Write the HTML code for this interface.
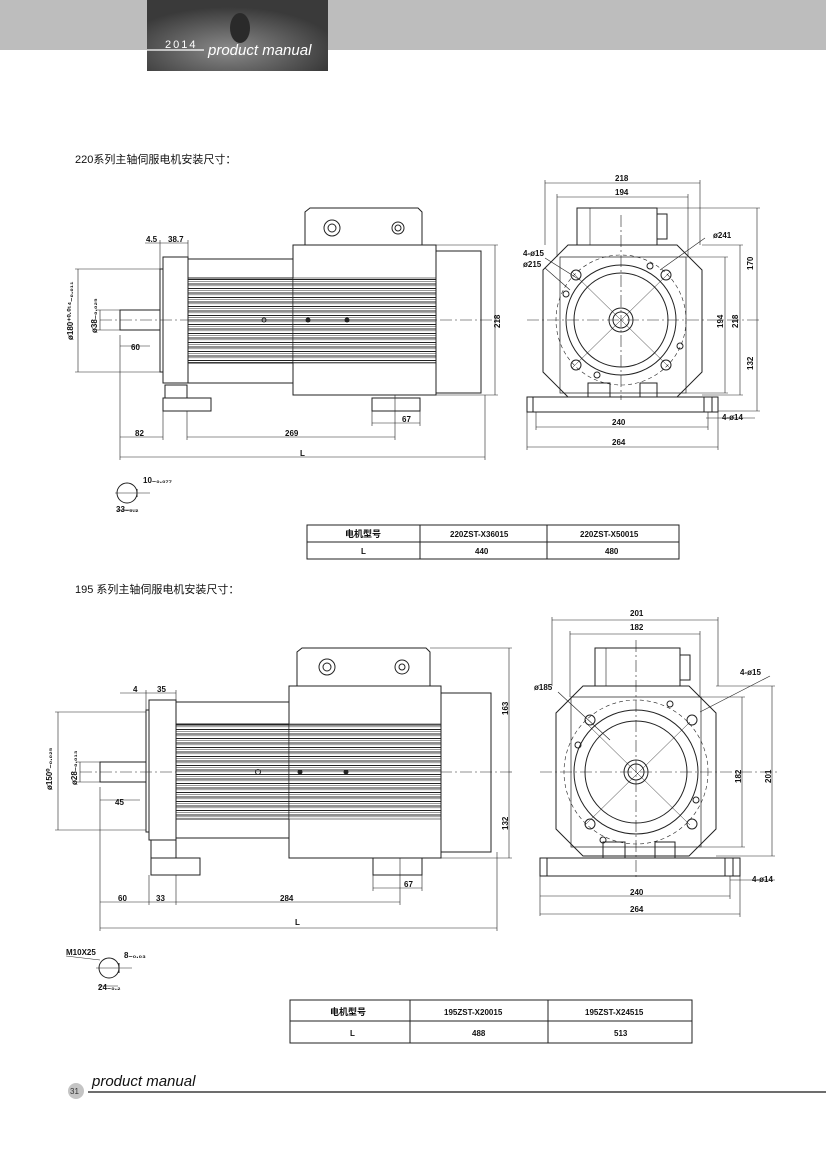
<!DOCTYPE html>
<html><head><meta charset="utf-8"><style>
body{margin:0;background:#fff}
svg{display:block}
text{font-family:"Liberation Sans","Noto Sans CJK SC",sans-serif}
.t{font-family:"Liberation Serif","Noto Serif CJK SC",serif;font-size:8px;font-weight:bold}
</style></head><body>
<svg width="826" height="1169" viewBox="0 0 826 1169" xmlns="http://www.w3.org/2000/svg">
<defs>
<pattern id="fin" width="10" height="4.5" patternUnits="userSpaceOnUse"><rect width="10" height="4.5" fill="#fff"/><line x1="0" y1="0.5" x2="10" y2="0.5" stroke="#222" stroke-width="1"/><line x1="0" y1="2.3" x2="10" y2="2.3" stroke="#555" stroke-width="0.6"/></pattern>
<radialGradient id="hg" cx="0.45" cy="0.7" r="0.6"><stop offset="0" stop-color="#8a8a8a"/><stop offset="1" stop-color="#3a3a3a"/></radialGradient>
</defs>
<!-- header -->
<rect x="0" y="0" width="826" height="50" fill="#bdbdbd"/>
<rect x="147" y="0" width="181" height="71" fill="url(#hg)"/>
<ellipse cx="240" cy="28" rx="10" ry="15" fill="#2a2a2a"/>
<line x1="147" y1="50" x2="204" y2="50" stroke="#fff" stroke-width="1.2"/>
<text x="165" y="48" font-size="11" fill="#fff" letter-spacing="2">2014</text>
<text x="208" y="55" font-size="15" fill="#fff" font-style="italic">product manual</text>

<text x="75" y="163" font-size="11" fill="#111">220系列主轴伺服电机安装尺寸：</text>
<text x="75" y="593" font-size="11" fill="#111">195 系列主轴伺服电机安装尺寸：</text>

<g fill="none" stroke="#222" stroke-width="1">
<!-- ===== Drawing 1 side ===== -->
<line x1="100" y1="320" x2="500" y2="320" stroke-dasharray="12,3,2,3" stroke-width="0.6"/>
<rect x="120" y="310" width="40" height="20"/>
<rect x="160" y="269" width="3" height="103"/>
<rect x="163" y="257" width="25" height="126"/>
<rect x="188" y="259" width="105" height="124"/>
<rect x="188" y="278" width="105" height="85" fill="url(#fin)"/>
<rect x="293" y="245" width="143" height="150"/>
<rect x="293" y="278" width="143" height="85" fill="url(#fin)" stroke-width="0.6"/>
<path d="M305 245 V212 l5 -4 H418 l4 4 V245"/>
<circle cx="332" cy="228" r="8"/><circle cx="332" cy="228" r="4"/>
<circle cx="398" cy="228" r="6"/><circle cx="398" cy="228" r="3"/>
<rect x="436" y="251" width="45" height="142"/>
<rect x="165" y="385" width="22" height="13"/><rect x="163" y="398" width="48" height="13"/>
<rect x="372" y="398" width="48" height="13"/>
<circle cx="264" cy="320" r="2"/><circle cx="308" cy="320" r="2" fill="#222"/><circle cx="347" cy="320" r="2" fill="#222"/>
<g stroke-width="0.6">
<line x1="120" y1="457" x2="485" y2="457"/><line x1="120" y1="335" x2="120" y2="460"/><line x1="485" y1="395" x2="485" y2="460"/>
<line x1="120" y1="437" x2="163" y2="437"/><line x1="187" y1="437" x2="395" y2="437"/><line x1="163" y1="411" x2="163" y2="440"/><line x1="187" y1="411" x2="187" y2="440"/><line x1="395" y1="395" x2="395" y2="440"/>
<line x1="372" y1="423" x2="420" y2="423"/><line x1="372" y1="411" x2="372" y2="426"/><line x1="420" y1="411" x2="420" y2="426"/>
<line x1="120" y1="346" x2="150" y2="346"/>
<line x1="145" y1="243" x2="188" y2="243"/><line x1="160" y1="240" x2="160" y2="269"/><line x1="188" y1="240" x2="188" y2="257"/>
<line x1="78" y1="269" x2="78" y2="372"/><line x1="75" y1="269" x2="160" y2="269"/><line x1="75" y1="372" x2="160" y2="372"/>
<line x1="100" y1="310" x2="100" y2="330"/><line x1="97" y1="310" x2="120" y2="310"/><line x1="97" y1="330" x2="120" y2="330"/>
<line x1="495" y1="245" x2="495" y2="395"/><line x1="436" y1="245" x2="498" y2="245"/><line x1="436" y1="395" x2="498" y2="395"/>
</g>
<!-- key section 1 -->
<circle cx="127" cy="493" r="10"/><line x1="137" y1="489" x2="137" y2="497"/><line x1="115" y1="493" x2="150" y2="493" stroke-width="0.5"/>
<line x1="117" y1="510" x2="137" y2="510" stroke-width="0.5"/>

<!-- ===== Front 1 ===== -->
<line x1="527" y1="320" x2="760" y2="320" stroke-dasharray="12,3,2,3" stroke-width="0.6"/>
<line x1="621" y1="215" x2="621" y2="400" stroke-dasharray="12,3,2,3" stroke-width="0.6"/>
<path d="M568 245 H677 L702 270 V372 L677 397 H568 L543 372 V270 Z"/>
<path d="M560 257 H686 V393 H560 Z" stroke-width="0.7"/>
<rect x="577" y="208" width="80" height="37"/><rect x="590" y="208" width="67" height="37" stroke-width="0.6"/>
<path d="M657 214 h10 v25 h-10"/>
<circle cx="621" cy="320" r="65" stroke-dasharray="4,3" stroke-width="0.6"/>
<circle cx="621" cy="320" r="55"/><circle cx="621" cy="320" r="47"/>
<circle cx="621" cy="320" r="12"/><circle cx="621" cy="320" r="8"/>
<line x1="572" y1="272" x2="670" y2="368" stroke-width="0.5"/><line x1="670" y1="272" x2="572" y2="368" stroke-width="0.5"/>
<circle cx="576" cy="275" r="5"/><circle cx="666" cy="275" r="5"/><circle cx="576" cy="365" r="5"/><circle cx="666" cy="365" r="5"/>
<circle cx="650" cy="266" r="3"/><circle cx="566" cy="294" r="3"/><circle cx="680" cy="346" r="3"/><circle cx="597" cy="375" r="3"/>
<rect x="588" y="383" width="22" height="14"/><rect x="640" y="383" width="17" height="14"/>
<rect x="527" y="397" width="191" height="15"/><line x1="533" y1="397" x2="533" y2="412"/><line x1="712" y1="397" x2="712" y2="412"/><line x1="704" y1="397" x2="704" y2="412"/>
<g stroke-width="0.6">
<line x1="545" y1="183" x2="700" y2="183"/><line x1="545" y1="180" x2="545" y2="245"/><line x1="700" y1="180" x2="700" y2="245"/>
<line x1="557" y1="197" x2="688" y2="197"/><line x1="557" y1="194" x2="557" y2="257"/><line x1="688" y1="194" x2="688" y2="257"/>
<line x1="536" y1="427" x2="708" y2="427"/><line x1="536" y1="412" x2="536" y2="430"/><line x1="708" y1="412" x2="708" y2="430"/>
<line x1="527" y1="447" x2="718" y2="447"/><line x1="527" y1="412" x2="527" y2="450"/><line x1="718" y1="412" x2="718" y2="450"/>
<line x1="757" y1="208" x2="757" y2="411"/><line x1="657" y1="208" x2="760" y2="208"/><line x1="718" y1="411" x2="760" y2="411"/>
<line x1="740" y1="245" x2="740" y2="395"/><line x1="702" y1="245" x2="743" y2="245"/><line x1="702" y1="395" x2="743" y2="395"/>
<line x1="725" y1="257" x2="725" y2="393"/><line x1="686" y1="257" x2="728" y2="257"/><line x1="686" y1="393" x2="728" y2="393"/>
<line x1="706" y1="418" x2="755" y2="418"/>
<line x1="545" y1="258" x2="580" y2="280"/><line x1="545" y1="268" x2="570" y2="290"/><line x1="705" y1="238" x2="660" y2="270"/>
</g>

<!-- ===== Drawing 2 side ===== -->
<line x1="80" y1="772" x2="515" y2="772" stroke-dasharray="12,3,2,3" stroke-width="0.6"/>
<rect x="100" y="762" width="46" height="20"/>
<rect x="146" y="710" width="3" height="122"/>
<rect x="149" y="700" width="27" height="140"/>
<rect x="176" y="702" width="113" height="136"/>
<rect x="176" y="724" width="113" height="95" fill="url(#fin)"/>
<rect x="289" y="686" width="152" height="172"/>
<rect x="289" y="724" width="152" height="95" fill="url(#fin)" stroke-width="0.6"/>
<path d="M297 686 V652 l5 -4 H426 l4 4 V686"/>
<circle cx="327" cy="667" r="8"/><circle cx="327" cy="667" r="4"/>
<circle cx="402" cy="667" r="7"/><circle cx="402" cy="667" r="3"/>
<rect x="441" y="693" width="50" height="159"/>
<rect x="151" y="840" width="25" height="18"/><rect x="151" y="858" width="49" height="17"/>
<rect x="373" y="858" width="49" height="17"/>
<circle cx="258" cy="772" r="2.5"/><circle cx="300" cy="772" r="2" fill="#222"/><circle cx="346" cy="772" r="2" fill="#222"/>
<g stroke-width="0.6">
<line x1="100" y1="928" x2="497" y2="928"/><line x1="100" y1="787" x2="100" y2="931"/><line x1="497" y1="852" x2="497" y2="931"/>
<line x1="100" y1="902" x2="400" y2="902"/><line x1="149" y1="875" x2="149" y2="905"/><line x1="176" y1="875" x2="176" y2="905"/><line x1="400" y1="858" x2="400" y2="905"/>
<line x1="373" y1="888" x2="422" y2="888"/><line x1="373" y1="875" x2="373" y2="891"/><line x1="422" y1="875" x2="422" y2="891"/>
<line x1="100" y1="800" x2="140" y2="800"/>
<line x1="120" y1="693" x2="176" y2="693"/><line x1="146" y1="690" x2="146" y2="710"/><line x1="176" y1="690" x2="176" y2="700"/>
<line x1="58" y1="712" x2="58" y2="830"/><line x1="55" y1="712" x2="146" y2="712"/><line x1="55" y1="830" x2="146" y2="830"/>
<line x1="80" y1="762" x2="80" y2="782"/><line x1="77" y1="762" x2="100" y2="762"/><line x1="77" y1="782" x2="100" y2="782"/>
<line x1="509" y1="648" x2="509" y2="858"/><line x1="430" y1="648" x2="512" y2="648"/><line x1="441" y1="858" x2="512" y2="858"/>
</g>
<!-- key section 2 -->
<circle cx="109" cy="968" r="10"/><line x1="119" y1="963" x2="119" y2="973"/><line x1="96" y1="968" x2="132" y2="968" stroke-width="0.5"/>
<line x1="98" y1="986" x2="118" y2="986" stroke-width="0.5"/><line x1="66" y1="956" x2="100" y2="960" stroke-width="0.5"/>

<!-- ===== Front 2 ===== -->
<line x1="540" y1="772" x2="780" y2="772" stroke-dasharray="12,3,2,3" stroke-width="0.6"/>
<line x1="636" y1="640" x2="636" y2="880" stroke-dasharray="12,3,2,3" stroke-width="0.6"/>
<path d="M583 686 H689 L716 713 V829 L689 856 H583 L556 829 V713 Z"/>
<path d="M571 697 H701 V847 H571 Z" stroke-width="0.7"/>
<rect x="595" y="648" width="85" height="38"/><rect x="606" y="648" width="74" height="38" stroke-width="0.6"/>
<path d="M680 655 h10 v25 h-10"/>
<circle cx="636" cy="772" r="72" stroke-dasharray="4,3" stroke-width="0.6"/>
<circle cx="636" cy="772" r="62"/><circle cx="636" cy="772" r="51"/>
<circle cx="636" cy="772" r="12"/><circle cx="636" cy="772" r="8"/>
<line x1="585" y1="722" x2="690" y2="825" stroke-width="0.5"/><line x1="690" y1="722" x2="585" y2="825" stroke-width="0.5"/>
<circle cx="590" cy="720" r="5"/><circle cx="692" cy="720" r="5"/><circle cx="590" cy="824" r="5"/><circle cx="692" cy="824" r="5"/>
<circle cx="670" cy="704" r="3"/><circle cx="578" cy="745" r="3"/><circle cx="696" cy="800" r="3"/><circle cx="603" cy="840" r="3"/>
<rect x="603" y="842" width="22" height="16"/><rect x="655" y="842" width="20" height="16"/>
<rect x="540" y="858" width="200" height="18"/><line x1="547" y1="858" x2="547" y2="876"/><line x1="733" y1="858" x2="733" y2="876"/><line x1="725" y1="858" x2="725" y2="876"/>
<g stroke-width="0.6">
<line x1="552" y1="620" x2="718" y2="620"/><line x1="552" y1="617" x2="552" y2="686"/><line x1="718" y1="617" x2="718" y2="686"/>
<line x1="570" y1="634" x2="700" y2="634"/><line x1="570" y1="631" x2="570" y2="697"/><line x1="700" y1="631" x2="700" y2="697"/>
<line x1="540" y1="896" x2="730" y2="896"/><line x1="540" y1="876" x2="540" y2="916"/><line x1="730" y1="876" x2="730" y2="899"/>
<line x1="540" y1="914" x2="740" y2="914"/><line x1="740" y1="876" x2="740" y2="917"/>
<line x1="772" y1="686" x2="772" y2="856"/><line x1="716" y1="686" x2="775" y2="686"/><line x1="716" y1="856" x2="775" y2="856"/>
<line x1="742" y1="697" x2="742" y2="847"/><line x1="701" y1="697" x2="745" y2="697"/><line x1="701" y1="847" x2="745" y2="847"/>
<line x1="730" y1="880" x2="775" y2="880"/>
<line x1="558" y1="692" x2="610" y2="740"/><line x1="770" y1="676" x2="700" y2="712"/>
</g>

<!-- tables -->
<rect x="307" y="525" width="372" height="34"/><line x1="307" y1="542" x2="679" y2="542"/><line x1="420" y1="525" x2="420" y2="559"/><line x1="547" y1="525" x2="547" y2="559"/>
<rect x="290" y="1000" width="402" height="43"/><line x1="290" y1="1021" x2="692" y2="1021"/><line x1="410" y1="1000" x2="410" y2="1043"/><line x1="548" y1="1000" x2="548" y2="1043"/>
</g>

<g fill="#111" class="t">
<text x="146" y="242">4.5</text><text x="168" y="242">38.7</text>
<text x="131" y="350">60</text><text x="135" y="436">82</text><text x="285" y="436">269</text><text x="402" y="422">67</text><text x="300" y="456">L</text>
<text transform="translate(73,340) rotate(-90)">ø180⁺⁰·⁰¹⁴₋₀.₀₁₁</text>
<text transform="translate(97,333) rotate(-90)">ø38₋₀.₀₂₅</text>
<text transform="translate(500,328) rotate(-90)">218</text>
<text x="143" y="483">10₋₀.₀₇₇</text><text x="116" y="512">33₋₀.₂</text>
<text x="615" y="181">218</text><text x="615" y="195">194</text>
<text x="523" y="256">4-ø15</text><text x="523" y="267">ø215</text><text x="713" y="238">ø241</text>
<text x="612" y="425">240</text><text x="612" y="445">264</text><text x="722" y="420">4-ø14</text>
<text transform="translate(753,270) rotate(-90)">170</text><text transform="translate(753,370) rotate(-90)">132</text>
<text transform="translate(738,328) rotate(-90)">218</text><text transform="translate(723,328) rotate(-90)">194</text>

<text x="133" y="692">4</text><text x="157" y="692">35</text>
<text x="115" y="805">45</text><text x="118" y="901">60</text><text x="156" y="901">33</text><text x="280" y="901">284</text><text x="404" y="887">67</text><text x="295" y="925">L</text>
<text transform="translate(52,790) rotate(-90)">ø150⁰₋₀.₀₂₅</text>
<text transform="translate(77,785) rotate(-90)">ø28₋₀.₀₁₃</text>
<text transform="translate(508,715) rotate(-90)">163</text><text transform="translate(508,830) rotate(-90)">132</text>
<text x="66" y="955">M10X25</text><text x="124" y="958">8₋₀.₀₃</text><text x="98" y="990">24₋₀.₂</text>
<text x="630" y="616">201</text><text x="630" y="630">182</text>
<text x="534" y="690">ø185</text><text x="740" y="675">4-ø15</text>
<text x="630" y="895">240</text><text x="630" y="912">264</text><text x="752" y="882">4-ø14</text>
<text transform="translate(771,783) rotate(-90)">201</text><text transform="translate(741,783) rotate(-90)">182</text>

<text x="345" y="537" font-size="9">电机型号</text><text x="450" y="537">220ZST-X36015</text><text x="580" y="537">220ZST-X50015</text>
<text x="361" y="554">L</text><text x="475" y="554">440</text><text x="605" y="554">480</text>
<text x="330" y="1015" font-size="9">电机型号</text><text x="444" y="1015">195ZST-X20015</text><text x="585" y="1015">195ZST-X24515</text>
<text x="350" y="1036">L</text><text x="472" y="1036">488</text><text x="614" y="1036">513</text>
</g>

<!-- footer -->
<circle cx="76" cy="1091" r="8" fill="#c4c4c4"/>
<text x="70" y="1094" font-size="8" fill="#333">31</text>
<text x="92" y="1086" font-size="15" font-style="italic" fill="#111">product manual</text>
<line x1="88" y1="1092" x2="826" y2="1092" stroke="#6d6d6d" stroke-width="2"/>
</svg>
</body></html>
